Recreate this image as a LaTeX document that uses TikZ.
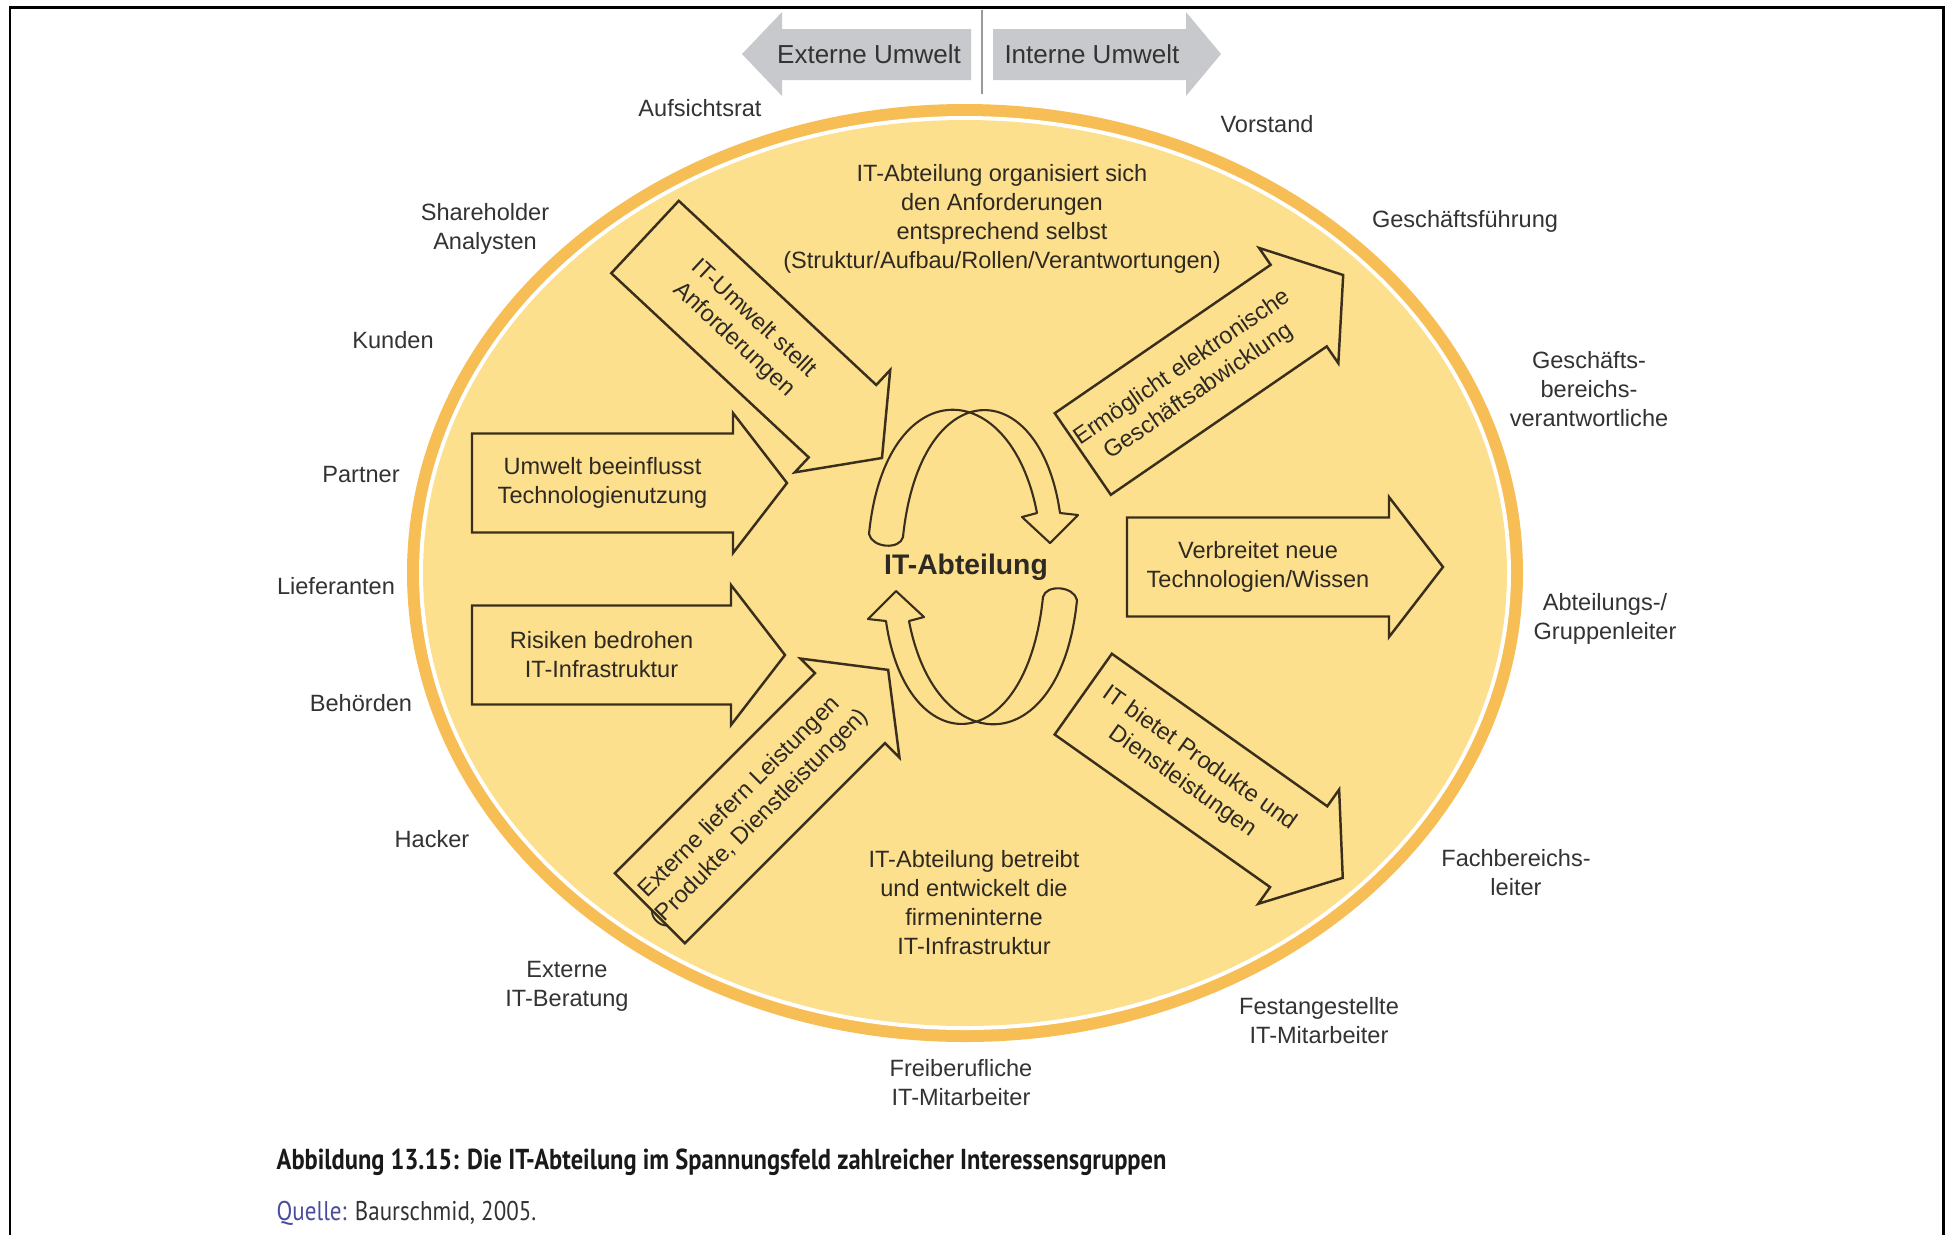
\documentclass[tikz,border=0pt]{standalone}
\usepackage{fontspec}
\setmainfont{Liberation Sans}
\newfontfamily\capfont[FakeStretch=0.85]{PT Sans}

\definecolor{ringorange}{HTML}{F7BE55}
\definecolor{innerfill}{HTML}{FDE08E}
\definecolor{outlinecol}{HTML}{3A2E1C}
\definecolor{arrowgray}{HTML}{C8C9CC}
\definecolor{dividergray}{HTML}{9A9A9A}
\definecolor{labelgray}{HTML}{333333}
\definecolor{innertext}{HTML}{2E2A22}
\definecolor{quelleblue}{HTML}{4A4C9E}

\newcommand\lblfont{\fontsize{6.7}{8.25}\selectfont}
\newcommand\topfont{\fontsize{7.4}{9}\selectfont}
\newcommand\centerfont{\fontsize{8.05}{10}\selectfont\bfseries}
\newcommand\captionfont{\fontsize{8.2}{10}\selectfont\capfont}
\newcommand\sourcefont{\fontsize{7.7}{10}\selectfont\capfont}

% block arrow: name, centre, angle, length, text
\newcommand\blockarrow[5]{%
  \begin{scope}[shift={#2},rotate=#3]
    \draw[blockline] ({-#4/2},-49.5) -- ({#4/2-54},-49.5) -- ({#4/2-54},-70)
      -- ({#4/2},0) -- ({#4/2-54},70) -- ({#4/2-54},49.5) -- ({-#4/2},49.5) -- cycle;
    \node[arrowtext,rotate=#3] (#1) at (-27,0) {#5};
  \end{scope}}

% one curved ribbon arrow of the central cycle
\newcommand\cyclepath{(903,537) .. controls (920,372) and (1040,372) .. (1060,513)
  -- (1078,515) -- (1050,543) -- (1022,517) -- (1037,513)
  .. controls (1010,372) and (885,372) .. (869,534)
  .. controls (872,548) and (900,550) .. (903,537) -- cycle}

\begin{document}
\begin{tikzpicture}[x=0.01cm,y=-0.01cm,
  lbl/.style={font=\lblfont, text=labelgray, align=center, inner sep=0pt},
  innerlbl/.style={font=\lblfont, text=innertext, align=center, inner sep=0pt},
  arrowtext/.style={font=\lblfont, text=innertext, align=center, inner sep=0pt},
  blockline/.style={draw=outlinecol, line width=0.7pt, line join=miter},
  cyclearrow/.style={draw=outlinecol, line width=0.6pt, line join=round},
  grayarrow/.style={fill=arrowgray, draw=none},
  toptext/.style={font=\topfont, text=labelgray, inner sep=0pt},
  frameline/.style={draw=black, line width=0.85pt},
  captext/.style={anchor=west, inner sep=0pt}
]
\useasboundingbox (0,0) rectangle (1950,1235);
\fill[white] (0,0) rectangle (1950,1235);

% frame
\draw[frameline] (10,1235) -- (10,7) -- (1943,7) -- (1943,1235);

% environment arrows at the top
\fill[grayarrow] (742,54) -- (782,12) -- (782,29) -- (971,29) -- (971,80) -- (782,80) -- (782,96) -- cycle;
\fill[grayarrow] (1221,54) -- (1186,12) -- (1186,29) -- (993,29) -- (993,80) -- (1186,80) -- (1186,96) -- cycle;
\draw[dividergray, line width=0.85pt] (982,10) -- (982,94);
\node[toptext] (extern) at (869,54) {Externe Umwelt};
\node[toptext] (intern) at (1092,54) {Interne Umwelt};

% the organisation as an ellipse with a ring
\fill[ringorange] (965,573) ellipse [x radius=558, y radius=469];
\fill[white] (965,573) ellipse [x radius=546, y radius=457];
\fill[innerfill] (965,573) ellipse [x radius=542, y radius=453];

% stakeholders around the ellipse
\node[lbl] (aufsichtsrat) at (700,108) {Aufsichtsrat};
\node[lbl] (vorstand) at (1267,124) {Vorstand};
\node[lbl] (shareholder) at (485,229) {Shareholder\\Analysten};
\node[lbl] (gf) at (1465,221) {Geschäftsführung};
\node[lbl] (kunden) at (393,340) {Kunden};
\node[lbl] (gbv) at (1589,389) {Geschäfts-\\bereichs-\\verantwortliche};
\node[lbl] (partner) at (361,474) {Partner};
\node[lbl] (lieferanten) at (336,586) {Lieferanten};
\node[lbl] (agl) at (1605,619) {Abteilungs-/\\Gruppenleiter};
\node[lbl] (behoerden) at (361,703) {Behörden};
\node[lbl] (hacker) at (432,839) {Hacker};
\node[lbl] (fbl) at (1516,873) {Fachbereichs-\\leiter};
\node[lbl] (beratung) at (567,986) {Externe\\IT-Beratung};
\node[lbl] (festang) at (1319,1021) {Festangestellte\\IT-Mitarbeiter};
\node[lbl] (freiber) at (961,1083) {Freiberufliche\\IT-Mitarbeiter};

% statements inside
\node[innerlbl] (organisiert) at (1002,219) {IT-Abteilung organisiert sich\\den Anforderungen\\entsprechend selbst\\(Struktur/Aufbau/Rollen/Verantwortungen)};
\node[innerlbl] (betreibt) at (974,903) {IT-Abteilung betreibt\\und entwickelt die\\firmeninterne\\IT-Infrastruktur};
\node[font=\centerfont, text=innertext, inner sep=0pt] (itabt) at (966,567) {IT-Abteilung};

% inbound influences
\blockarrow{anforderungen}{(763.5,347.5)}{-43}{324}{IT-Umwelt stellt\\Anforderungen}
\blockarrow{technologie}{(629.5,483)}{0}{315}{Umwelt beeinflusst\\Technologienutzung}
\blockarrow{risiken}{(628.5,655)}{0}{313}{Risiken bedrohen\\IT-Infrastruktur}
\blockarrow{leistungen}{(769,789)}{45}{337}{Externe liefern Leistungen\\(Produkte, Dienstleistungen)}

% outbound contributions
\blockarrow{ebusiness}{(1213,364.5)}{34.5}{316}{Ermöglicht elektronische\\Geschäftsabwicklung}
\blockarrow{wissen}{(1285,567)}{0}{316}{Verbreitet neue\\Technologien/Wissen}
\blockarrow{produkte}{(1213,786)}{-35.3}{318}{IT bietet Produkte und\\Dienstleistungen}

% central cycle
\draw[cyclearrow] \cyclepath;
\draw[cyclearrow, rotate around={180:(973,567)}] \cyclepath;

% caption
\node[captext, font=\captionfont] (caption) at (276,1162) {\bfseries\color{black!90}Abbildung 13.15: Die IT-Abteilung im Spannungsfeld zahlreicher Interessensgruppen};
\node[captext, font=\sourcefont] (source) at (276,1213) {\textcolor{quelleblue}{Quelle:} \textcolor{black!80}{Baurschmid, 2005.}};
\end{tikzpicture}
\end{document}
